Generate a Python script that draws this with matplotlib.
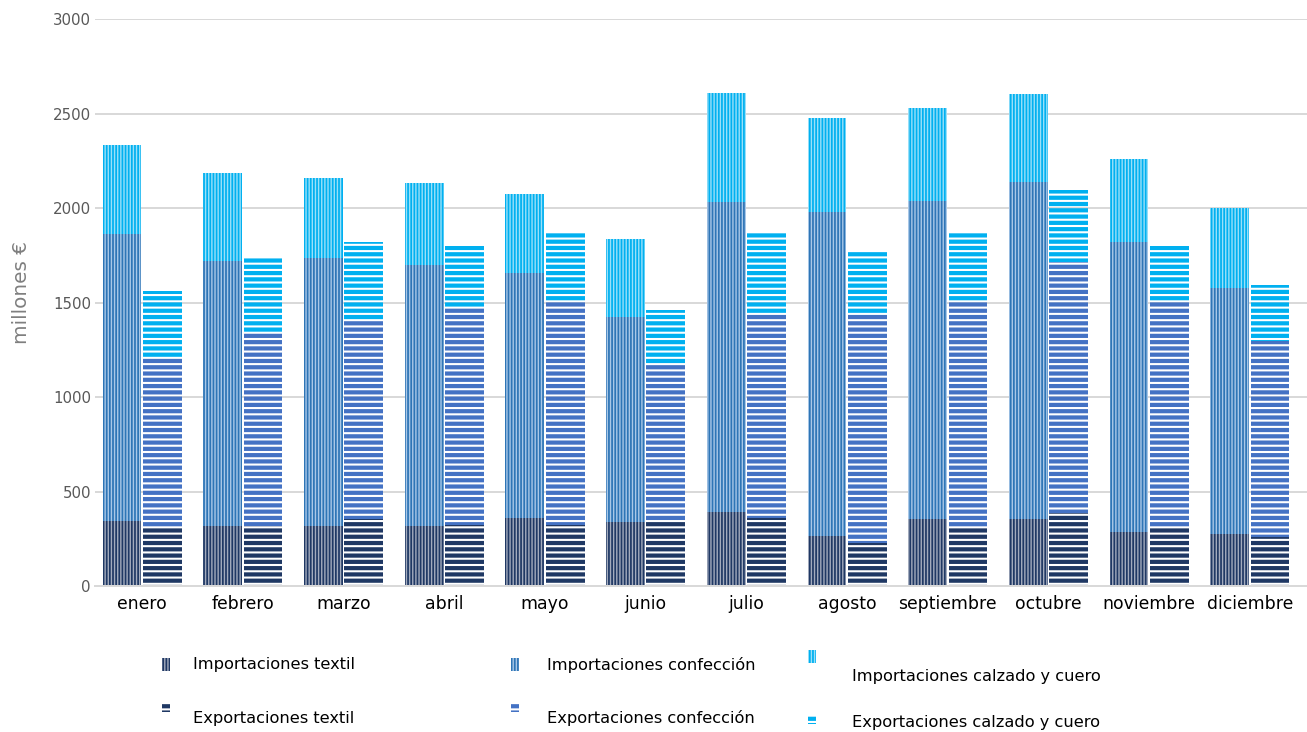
import numpy as np
import matplotlib
matplotlib.use("Agg")
import matplotlib.pyplot as plt
from matplotlib.patches import Rectangle

months = ["enero", "febrero", "marzo", "abril", "mayo", "junio", "julio",
          "agosto", "septiembre", "octubre", "noviembre", "diciembre"]

imp_textil = [347, 319, 319, 319, 360, 342, 395, 266, 355, 355, 289, 277]
imp_confeccion = [1519, 1403, 1420, 1380, 1296, 1082, 1639, 1713, 1684, 1786, 1533, 1303]
imp_calzado = [469, 467, 422, 437, 420, 414, 576, 499, 492, 464, 441, 420]

exp_textil = [310, 319, 355, 325, 325, 351, 360, 228, 307, 386, 307, 259]
exp_confeccion = [896, 1020, 1047, 1155, 1181, 820, 1085, 1208, 1203, 1330, 1203, 1039]
exp_calzado = [357, 400, 420, 319, 364, 293, 427, 333, 362, 381, 289, 298]

labels_imp = ["Importaciones textil", "Importaciones confección", "Importaciones calzado y cuero"]
labels_exp = ["Exportaciones textil", "Exportaciones confección", "Exportaciones calzado y cuero"]

DPI = 113
W, H = 1307, 732


def pt(px):
    return px * 72.0 / DPI


imp_colors = ["#1F3864", "#2E75B6", "#00B0F0"]
imp_stripe = ["#A3ABBD", "#A9C8E8", "#99E0F9"]
exp_colors = ["#1F3864", "#4472C4", "#00B0F0"]
IMP_HATCH = "||||||"
EXP_HATCH = "---"
IMP_HLW = pt(1.4)
EXP_HLW = pt(4.2)

plt.rcParams["font.family"] = ["DejaVu Sans"]

fig = plt.figure(figsize=(W / DPI, H / DPI), dpi=DPI)
ax = fig.add_axes([95 / W, (H - 586.3) / H, (W - 95) / W, 567 / H])

x = np.arange(len(months))
BW = 0.385


def set_hlw(patch, lw):
    if hasattr(patch, "set_hatch_linewidth"):
        patch.set_hatch_linewidth(lw)


def stacked(offset, series, faces, hatch_cols, hatch, hlw):
    bottom = np.zeros(len(months))
    for vals, fc, hc in zip(series, faces, hatch_cols):
        with plt.rc_context({"hatch.linewidth": hlw}):
            bars = ax.bar(x + offset, vals, BW, bottom=bottom, facecolor=fc,
                          edgecolor=hc, linewidth=0, hatch=hatch, zorder=2)
        for b in bars:
            set_hlw(b, hlw)
        bottom += np.array(vals, dtype=float)


# imports: solid colour with light vertical stripes
stacked(-0.2, [imp_textil, imp_confeccion, imp_calzado], imp_colors, imp_stripe, IMP_HATCH, IMP_HLW)
# exports: thick horizontal colour stripes with transparent gaps
stacked(0.2, [exp_textil, exp_confeccion, exp_calzado], ["none"] * 3, exp_colors, EXP_HATCH, EXP_HLW)

ax.set_xlim(-0.469, 11.567)
ax.set_ylim(0, 3000)
ax.set_yticks(np.arange(0, 3001, 500))
ax.set_xticks(x)
ax.set_xticklabels(months)
ax.yaxis.grid(True, color="#D9D9D9", linewidth=pt(2))
ax.set_axisbelow(True)
for s in ["top", "right", "left"]:
    ax.spines[s].set_visible(False)
ax.spines["bottom"].set_color("#D9D9D9")
ax.spines["bottom"].set_linewidth(pt(2))
ax.tick_params(axis="y", length=0, pad=pt(4), labelsize=pt(15), labelcolor="#595959")
ax.tick_params(axis="x", length=0, pad=pt(9), labelsize=pt(17.3), labelcolor="#000000")

fig.text(22 / W, 1 - 292 / H, "millones €", rotation=90, ha="center", va="center",
         color="#7F7F7F", fontsize=pt(20))

# legend (manual layout)
legend_cols = [
    (162, 193, 665, 718, 658, 704),
    (511, 547, 665, 718, 658, 704),
    (808, 852, 677, 722, 650, 716),
]
for i, (px, tx, ty1, ty2, py1, py2) in enumerate(legend_cols):
    with plt.rc_context({"hatch.linewidth": IMP_HLW}):
        r1 = Rectangle((px / W, 1 - (py1 + 13) / H), 8 / W, 13 / H, transform=fig.transFigure,
                       facecolor=imp_colors[i], edgecolor=imp_stripe[i], linewidth=0, hatch=IMP_HATCH)
    set_hlw(r1, IMP_HLW)
    fig.add_artist(r1)
    with plt.rc_context({"hatch.linewidth": EXP_HLW}):
        r2 = Rectangle((px / W, 1 - (py2 + 8) / H), 8 / W, 8 / H, transform=fig.transFigure,
                       facecolor="none", edgecolor=exp_colors[i], linewidth=0, hatch=EXP_HATCH)
    set_hlw(r2, EXP_HLW)
    fig.add_artist(r2)
    fig.text(tx / W, 1 - ty1 / H, labels_imp[i], ha="left", va="center", fontsize=pt(16.3), color="#000000")
    fig.text(tx / W, 1 - ty2 / H, labels_exp[i], ha="left", va="center", fontsize=pt(16.3), color="#000000")

fig.savefig("out.png", dpi=DPI)
